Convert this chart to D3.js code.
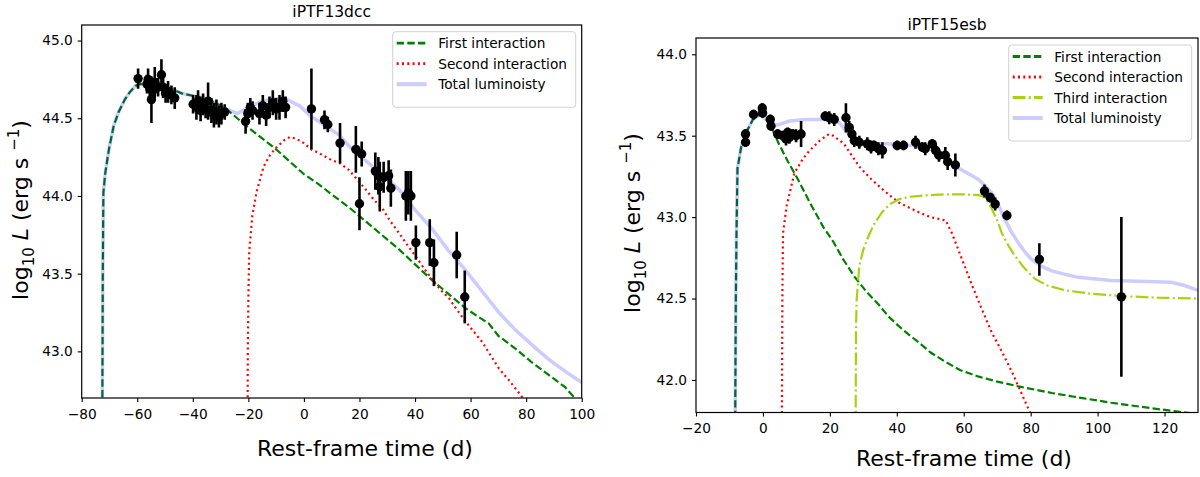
<!DOCTYPE html>
<html>
<head>
<meta charset="utf-8">
<script src="https://cdn.jsdelivr.net/npm/d3@7"></script>
<style>
	body { margin: 0; background: #fff; }
	svg text { font-family: "DejaVu Sans", sans-serif; fill: #000; }
</style>
</head>
<body>
<div id="chart"></div>
<script>
// iPTF13dcc observations: [rest-frame day, log10 L, error]
let dcc_obs = [
	[-59.7, 44.755, 0.065], [-56.5, 44.72, 0.06], [-56.1, 44.75, 0.07], [-55.5, 44.69, 0.07],
	[-54.9, 44.62, 0.15], [-54.3, 44.68, 0.08], [-53.7, 44.73, 0.1], [-52.5, 44.70, 0.06],
	[-51.3, 44.78, 0.1], [-50.7, 44.70, 0.07], [-49.8, 44.66, 0.06], [-48.9, 44.67, 0.07],
	[-47.7, 44.65, 0.06], [-46.5, 44.63, 0.07],
	[-39.9, 44.59, 0.06], [-38.7, 44.57, 0.08], [-38.1, 44.61, 0.07], [-37.2, 44.55, 0.07],
	[-36.3, 44.59, 0.07], [-35.4, 44.56, 0.06], [-34.5, 44.61, 0.12], [-33.3, 44.55, 0.08],
	[-32.4, 44.52, 0.08], [-31.5, 44.54, 0.08], [-30.6, 44.51, 0.07], [-29.7, 44.53, 0.07],
	[-28.5, 44.54, 0.05],
	[-21.0, 44.48, 0.08], [-20.2, 44.53, 0.07], [-19.3, 44.57, 0.06], [-18.5, 44.55, 0.06],
	[-16.0, 44.53, 0.07], [-14.8, 44.58, 0.07], [-13.6, 44.52, 0.07], [-12.4, 44.57, 0.07],
	[-11.2, 44.60, 0.08], [-10.0, 44.56, 0.07], [-8.8, 44.57, 0.08], [-7.6, 44.61, 0.07],
	[-6.6, 44.57, 0.07],
	[2.7, 44.56, 0.26], [7.4, 44.49, 0.06], [8.6, 44.46, 0.05], [13.0, 44.34, 0.13],
	[18.7, 44.30, 0.15], [20.0, 43.95, 0.17], [20.8, 44.27, 0.08], [25.7, 44.16, 0.12],
	[26.8, 44.13, 0.12], [27.3, 44.06, 0.16], [28.7, 44.12, 0.1], [30.5, 44.13, 0.1],
	[31.3, 44.05, 0.12], [36.7, 44.0, 0.16], [37.6, 44.02, 0.14], [38.5, 44.0, 0.16],
	[40.3, 43.70, 0.11], [45.3, 43.70, 0.15], [46.8, 43.57, 0.15], [55.0, 43.62, 0.15],
	[57.9, 43.35, 0.17]
];

let dcc_first = [
	[-72.6, 42.5], [-72.4, 43.5], [-72.2, 44.02], [-71.5, 44.15], [-70.2, 44.30], [-68.5, 44.45],
	[-66.7, 44.54], [-64.5, 44.62], [-62.6, 44.67], [-60.5, 44.71], [-59, 44.72], [-56, 44.72],
	[-52, 44.71], [-48, 44.69], [-44, 44.66], [-40, 44.645], [-36, 44.63], [-32, 44.60],
	[-28, 44.56], [-24, 44.50], [-20, 44.44], [-15, 44.37], [-10, 44.30], [-5, 44.22],
	[0, 44.14], [5, 44.08], [10, 44.01], [16, 43.93], [22, 43.84], [28, 43.75], [34, 43.66],
	[40, 43.56], [46, 43.46], [52, 43.37], [58, 43.28], [63, 43.22], [66.5, 43.18], [70, 43.10],
	[76, 43.02], [82, 42.93], [88, 42.85], [94, 42.77], [97.5, 42.70], [100, 42.66]
];

let dcc_second = [
	[-20.3, 42.5], [-20.2, 43.0], [-20.0, 43.34], [-19.7, 43.64], [-18.6, 43.87], [-17, 44.03],
	[-14.5, 44.19], [-12, 44.27], [-10, 44.31], [-7, 44.36], [-5, 44.38], [-3, 44.37],
	[0, 44.34], [2.6, 44.30], [6, 44.27], [10, 44.23], [13, 44.21], [16, 44.17], [19, 44.11],
	[22.3, 44.04], [25, 43.98], [28.6, 43.91], [31, 43.84], [34.3, 43.76], [37, 43.69],
	[40.3, 43.61], [43, 43.54], [46.3, 43.46], [49, 43.40], [52.3, 43.34], [55, 43.27],
	[58.3, 43.19], [61, 43.13], [64.2, 43.06], [67, 42.98], [70.2, 42.89], [74, 42.81],
	[78, 42.72], [80, 42.67]
];

let dcc_total = [
	[-72.6, 42.5], [-72.4, 43.5], [-72.2, 44.02], [-71.5, 44.15], [-70.2, 44.30], [-68.5, 44.45],
	[-66.7, 44.54], [-64.5, 44.62], [-62.6, 44.67], [-60.5, 44.71], [-59, 44.72], [-56, 44.72],
	[-52, 44.71], [-48, 44.69], [-44, 44.66], [-40, 44.645], [-36, 44.63], [-32, 44.60],
	[-28, 44.56], [-24, 44.53], [-20, 44.57], [-15, 44.61], [-10, 44.625], [-6, 44.62],
	[-1.6, 44.58], [2, 44.52], [7, 44.46], [12.8, 44.39], [16.3, 44.32], [22, 44.23],
	[28, 44.14], [34.3, 44.04], [40, 43.91], [46.3, 43.785], [52, 43.65], [58.3, 43.52],
	[64, 43.39], [70.2, 43.25], [76, 43.14], [82.2, 43.04], [88, 42.95], [94.2, 42.87],
	[100, 42.80]
];

// iPTF15esb observations: [rest-frame day, log10 L, error]
let esb_obs = [
	[-5.2, 43.46, 0.03], [-5.2, 43.51, 0.03], [-2.8, 43.63, 0.03], [-0.2, 43.67, 0.03],
	[-0.1, 43.64, 0.03], [2.2, 43.60, 0.03], [2.4, 43.56, 0.03], [4.4, 43.51, 0.03],
	[5.9, 43.50, 0.03], [6.9, 43.48, 0.04], [7.4, 43.52, 0.03], [7.9, 43.49, 0.04],
	[8.9, 43.51, 0.03], [9.9, 43.50, 0.04], [11.4, 43.51, 0.08],
	[18.6, 43.62, 0.03], [19.8, 43.61, 0.04], [21.3, 43.60, 0.04], [24.8, 43.61, 0.09],
	[25.8, 43.55, 0.04], [26.6, 43.51, 0.04], [27.3, 43.47, 0.04], [28.8, 43.46, 0.04],
	[31.2, 43.45, 0.04], [32.3, 43.43, 0.04], [33.2, 43.44, 0.03], [34.5, 43.42, 0.04],
	[35.7, 43.41, 0.05], [40.1, 43.44, 0.03], [42.0, 43.44, 0.03], [45.6, 43.46, 0.04],
	[47.6, 43.43, 0.03], [48.5, 43.42, 0.04], [50.6, 43.45, 0.03], [51.6, 43.41, 0.04],
	[52.6, 43.38, 0.04], [54.5, 43.38, 0.05], [55.2, 43.34, 0.05], [57.5, 43.32, 0.07],
	[66.2, 43.16, 0.04], [67.9, 43.12, 0.03], [69.4, 43.08, 0.04], [72.9, 43.01, 0.03],
	[82.6, 42.74, 0.1], [107.1, 42.51, 0.49]
];

let esb_first = [
	[-8.3, 41.7], [-8.1, 42.5], [-7.9, 42.9], [-7.6, 43.3], [-6.5, 43.43], [-5, 43.52],
	[-3, 43.6], [-1, 43.63], [1, 43.6], [3, 43.53], [5, 43.44], [7.5, 43.34], [10.5, 43.23],
	[14, 43.09], [18, 42.94], [21, 42.85], [24, 42.74], [27.5, 42.63], [31, 42.54],
	[34.7, 42.46], [37.5, 42.39], [40.6, 42.33], [43.5, 42.28], [46.6, 42.23], [50, 42.17],
	[54.6, 42.11], [59, 42.06], [64.5, 42.02], [70, 41.99], [76.4, 41.96], [86.3, 41.92],
	[95, 41.89], [104.1, 41.86], [113, 41.835], [124, 41.805], [130, 41.79]
];

let esb_second = [
	[5.65, 41.7], [5.8, 42.5], [6.0, 42.9], [7.1, 43.07], [9.4, 43.27], [12, 43.36],
	[14, 43.41], [17, 43.47], [19.7, 43.51], [21, 43.5], [24.2, 43.45], [26.5, 43.38],
	[28.8, 43.31], [32, 43.24], [34.7, 43.19], [37.5, 43.14], [40.6, 43.09], [43.5, 43.06],
	[46.6, 43.03], [50, 43.0], [54.6, 42.98], [56.5, 42.9], [59.5, 42.74], [62.5, 42.58],
	[65.5, 42.43], [68.4, 42.29], [71.5, 42.17], [74.4, 42.05], [77, 41.93], [79.8, 41.80],
	[80.2, 41.78]
];

let esb_third = [
	[27.7, 41.7], [27.8, 42.3], [28.0, 42.49], [28.8, 42.70], [30, 42.80], [31.1, 42.86],
	[33, 42.95], [35.6, 43.03], [38, 43.08], [40.6, 43.11], [44, 43.125], [49.6, 43.135],
	[55, 43.14], [60, 43.14], [64.5, 43.135], [66.5, 43.12], [68.4, 43.05], [70, 42.98],
	[71.4, 42.90], [73.5, 42.82], [75.4, 42.76], [78, 42.69], [81.3, 42.62], [85, 42.58],
	[90.3, 42.55], [98, 42.53], [107.1, 42.515], [118, 42.505], [130, 42.50]
];

let esb_total = [
	[-8.3, 41.7], [-8.1, 42.5], [-7.9, 42.9], [-7.6, 43.3], [-6.5, 43.43], [-5, 43.52],
	[-3, 43.6], [-1, 43.63], [1, 43.6], [3, 43.56], [5, 43.57], [7.9, 43.59], [12.9, 43.60],
	[17.9, 43.60], [21, 43.59], [22.8, 43.58], [24.8, 43.53], [26.5, 43.49], [28, 43.47],
	[32, 43.45], [37, 43.45], [45, 43.44], [50, 43.42], [54, 43.37], [58.5, 43.30],
	[62, 43.26], [64.5, 43.23], [66.5, 43.19], [68.4, 43.15], [70.5, 43.07], [72.4, 42.98],
	[74.5, 42.90], [76.4, 42.84], [78.5, 42.78], [80.3, 42.74], [83, 42.70], [86.3, 42.67],
	[90, 42.65], [94.2, 42.63], [104.1, 42.61], [115, 42.605], [122, 42.60], [126, 42.58],
	[130, 42.55]
];

let dcc_xticks = [-80, -60, -40, -20, 0, 20, 40, 60, 80, 100];
let dcc_yticks = [43.0, 43.5, 44.0, 44.5, 45.0];
let esb_xticks = [-20, 0, 20, 40, 60, 80, 100, 120];
let esb_yticks = [42.0, 42.5, 43.0, 43.5, 44.0];

let legend_names = ["First interaction", "Second interaction", "Third interaction", "Total luminoisty"];

let styles = {
	first: {stroke: "#008000", width: 2.2, dash: "7.4,3.2", opacity: 1},
	second: {stroke: "#ff0000", width: 2.2, dash: "2,3.3", opacity: 1},
	third: {stroke: "#a6d30f", width: 2.2, dash: "12.8,3.2,2,3.2", opacity: 1},
	total: {stroke: "#0000ff", width: 3.5, dash: null, opacity: 0.2}
};

function panel(svg, p) {
	let x = d3.scaleLinear().domain(p.xdomain).range([p.left, p.right]);
	let y = d3.scaleLinear().domain(p.ydomain).range([p.bottom, p.top]);

	svg.append("clipPath")
		.attr("id", "clip_" + p.id)
		.append("rect")
		.attr("x", p.left)
		.attr("y", p.top)
		.attr("width", p.right - p.left)
		.attr("height", p.bottom - p.top);

	let plot = svg.append("g")
		.attr("clip-path", "url(#clip_" + p.id + ")");

	let line = d3.line()
		.x(function(d) { return x(d[0]) })
		.y(function(d) { return y(d[1]) });

	p.curves.forEach(function(c) {
		let s = styles[c.style];
		plot.append("path")
			.datum(c.data)
			.attr("d", line)
			.attr("fill", "none")
			.attr("stroke", s.stroke)
			.attr("stroke-width", s.width)
			.attr("stroke-opacity", s.opacity)
			.attr("stroke-dasharray", s.dash);
	});

	plot.append("g")
		.selectAll("line")
		.data(p.obs)
		.enter()
		.append("line")
		.attr("x1", function(d) { return x(d[0]) })
		.attr("x2", function(d) { return x(d[0]) })
		.attr("y1", function(d) { return y(d[1] - d[2]) })
		.attr("y2", function(d) { return y(d[1] + d[2]) })
		.attr("stroke", "#000")
		.attr("stroke-width", 2.6);

	plot.append("g")
		.selectAll("circle")
		.data(p.obs)
		.enter()
		.append("circle")
		.attr("cx", function(d) { return x(d[0]) })
		.attr("cy", function(d) { return y(d[1]) })
		.attr("r", 4.7)
		.attr("fill", "#000");

	// axes
	let xa = svg.append("g")
		.attr("transform", "translate(0," + p.bottom + ")")
		.call(d3.axisBottom(x).tickValues(p.xticks).tickSize(4).tickPadding(7).tickFormat(d3.format("d")));
	let ya = svg.append("g")
		.attr("transform", "translate(" + p.left + ",0)")
		.call(d3.axisLeft(y).tickValues(p.yticks).tickSize(4).tickPadding(5).tickFormat(d3.format(".1f")));
	[xa, ya].forEach(function(a) {
		a.select(".domain").remove();
		a.attr("font-family", null).attr("font-size", null);
		a.selectAll("text").style("font-size", "13.7px");
		a.selectAll("line").attr("stroke", "#000").attr("stroke-width", 1.1);
	});

	svg.append("rect")
		.attr("x", p.left)
		.attr("y", p.top)
		.attr("width", p.right - p.left)
		.attr("height", p.bottom - p.top)
		.attr("fill", "none")
		.attr("stroke", "#000")
		.attr("stroke-width", 1.2);

	svg.append("text")
		.attr("x", (p.left + p.right) / 2)
		.attr("y", p.top - 8)
		.attr("text-anchor", "middle")
		.style("font-size", "15.5px")
		.text(p.title);

	svg.append("text")
		.attr("x", p.xlabel_x)
		.attr("y", p.xlabel_y)
		.attr("text-anchor", "middle")
		.style("font-size", "22px")
		.text("Rest-frame time (d)");

	let yl = svg.append("text")
		.attr("transform", "translate(" + p.ylabel_x + "," + p.ylabel_y + ") rotate(-90)")
		.attr("text-anchor", "middle")
		.style("font-size", "22px");
	yl.append("tspan").text("log");
	yl.append("tspan").attr("dy", 6).style("font-size", "15px").text("10");
	yl.append("tspan").attr("dy", -6).text(" ");
	yl.append("tspan").style("font-style", "italic").text("L");
	yl.append("tspan").text(" (erg s ");
	yl.append("tspan").attr("dy", -9).style("font-size", "15px").text("\u22121");
	yl.append("tspan").attr("dy", 9).text(")");

	// legend
	let lg = svg.append("g")
		.attr("transform", "translate(" + p.legend_x + "," + p.legend_y + ")");
	let rows = p.curves.length;
	lg.append("rect")
		.attr("width", 183)
		.attr("height", 14 + rows * 20.5)
		.attr("rx", 3)
		.attr("fill", "#fff")
		.attr("fill-opacity", 0.8)
		.attr("stroke", "#d0d0d0")
		.attr("stroke-width", 1);
	p.curves.forEach(function(c, i) {
		let s = styles[c.style];
		let cy = 11.5 + i * 20.5;
		lg.append("line")
			.attr("x1", 4)
			.attr("x2", 34)
			.attr("y1", cy)
			.attr("y2", cy)
			.attr("stroke", s.stroke)
			.attr("stroke-width", s.width + 0.6)
			.attr("stroke-opacity", s.opacity)
			.attr("stroke-dasharray", s.dash);
		lg.append("text")
			.attr("x", 45.5)
			.attr("y", cy + 5)
			.style("font-size", "13.7px")
			.text(c.name);
	});
}

function render() {
	let svg = d3.select("#chart")
		.append("svg")
		.attr("width", 1200)
		.attr("height", 477);

	panel(svg, {
		id: "dcc",
		title: "iPTF13dcc",
		obs: dcc_obs,
		curves: [
			{data: dcc_first, style: "first", name: legend_names[0]},
			{data: dcc_second, style: "second", name: legend_names[1]},
			{data: dcc_total, style: "total", name: legend_names[3]}
		],
		xdomain: [-80, 100], ydomain: [42.7, 45.1],
		xticks: dcc_xticks, yticks: dcc_yticks,
		left: 81.7, right: 581.7, top: 25, bottom: 398,
		xlabel_x: 365, xlabel_y: 456,
		ylabel_x: 28, ylabel_y: 210,
		legend_x: 392.7, legend_y: 31.7
	});

	panel(svg, {
		id: "esb",
		title: "iPTF15esb",
		obs: esb_obs,
		curves: [
			{data: esb_first, style: "first", name: legend_names[0]},
			{data: esb_second, style: "second", name: legend_names[1]},
			{data: esb_third, style: "third", name: legend_names[2]},
			{data: esb_total, style: "total", name: legend_names[3]}
		],
		xdomain: [-20, 130], ydomain: [41.8, 44.1],
		xticks: esb_xticks, yticks: esb_yticks,
		left: 696, right: 1198, top: 38, bottom: 412.5,
		xlabel_x: 964, xlabel_y: 466,
		ylabel_x: 640, ylabel_y: 223,
		legend_x: 1008.7, legend_y: 45
	});
}

render();
</script>
</body>
</html>
